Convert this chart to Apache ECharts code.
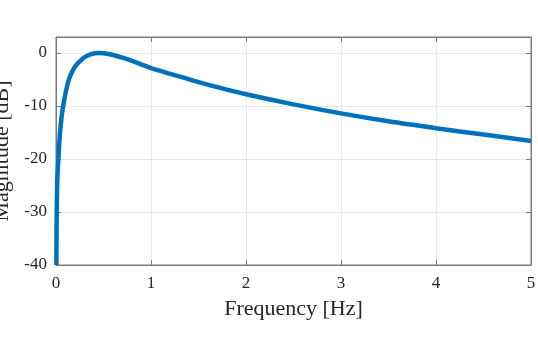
<!DOCTYPE html>
<html>
<head>
<meta charset="utf-8">
<script src="https://cdn.jsdelivr.net/npm/echarts@6/dist/echarts.min.js"></script>
<style>
html, body { margin: 0; padding: 0; background: #fff; }
#main { width: 538px; height: 338px; }
</style>
</head>
<body>
<div id="main"></div>
<script>
// frequency [Hz] and magnitude [dB]
const freq = [0.004, 0.006, 0.009, 0.014, 0.02, 0.025, 0.035, 0.05, 0.065, 0.08, 0.095, 0.11, 0.134,
  0.16, 0.18, 0.21, 0.25, 0.29, 0.33, 0.37, 0.41, 0.45, 0.5, 0.55, 0.6, 0.7, 0.8, 0.9, 1.0, 1.1,
  1.25, 1.5, 1.75, 2.0, 2.5, 3.0, 3.5, 4.0, 4.5, 5.0];
const magDb = [-40, -33, -28, -24, -21.5, -20, -16.8, -13.5, -11.2, -9.5, -8.1, -6.8, -5.1,
  -3.95, -3.2, -2.35, -1.6, -0.95, -0.55, -0.25, -0.07, 0, -0.05, -0.2, -0.4, -0.9, -1.5, -2.2, -2.85, -3.4,
  -4.2, -5.5, -6.7, -7.8, -9.7, -11.4, -12.9, -14.2, -15.4, -16.6];
const xTicks = [0, 1, 2, 3, 4, 5];
const yTicks = [-40, -30, -20, -10, 0];

const font = 'Liberation Serif';
const txt = '#262626';
const axisCol = '#7a7a7a';

let points = freq.map((f, i) => [f, magDb[i]]);

let option = {
  animation: false,
  backgroundColor: '#fff',
  grid: {
    left: 56, right: 7, top: 37, bottom: 73,
    outerBoundsMode: 'none',
    containLabel: false,
    show: true, borderColor: axisCol, borderWidth: 1
  },
  xAxis: [{
    type: 'value',
    min: xTicks[0], max: xTicks[xTicks.length - 1], interval: 1,
    name: 'Frequency [Hz]',
    nameLocation: 'middle',
    nameGap: 33,
    nameTextStyle: { fontFamily: font, fontSize: 22, color: txt },
    axisLine: { onZero: false, lineStyle: { color: axisCol } },
    axisTick: { inside: true, length: 5, lineStyle: { color: axisCol } },
    axisLabel: { fontFamily: font, fontSize: 17, color: txt, margin: 10 },
    splitLine: { lineStyle: { color: '#e8e8e8' } }
  }, {
    type: 'value', position: 'top',
    min: 0, max: 5, interval: 1,
    axisLine: { onZero: false, lineStyle: { color: axisCol } },
    axisTick: { inside: true, length: 5, lineStyle: { color: axisCol } },
    axisLabel: { show: false },
    splitLine: { show: false }
  }],
  yAxis: [{
    type: 'value',
    min: yTicks[0], max: 3, interval: 10,
    name: 'Magnitude [dB]',
    nameLocation: 'middle',
    nameGap: 38,
    nameTextStyle: { fontFamily: font, fontSize: 22, color: txt },
    axisLine: { show: true, onZero: false, lineStyle: { color: axisCol } },
    axisTick: { inside: true, length: 5, lineStyle: { color: axisCol } },
    axisLabel: {
      fontFamily: font, fontSize: 17, color: txt, margin: 9,
      formatter: v => (yTicks.includes(v) ? String(v) : '')
    },
    splitLine: { lineStyle: { color: '#e8e8e8' } }
  }, {
    type: 'value', position: 'right',
    min: -40, max: 3, interval: 10,
    axisLine: { show: true, onZero: false, lineStyle: { color: axisCol } },
    axisTick: { inside: true, length: 5, lineStyle: { color: axisCol } },
    axisLabel: { show: false },
    splitLine: { show: false }
  }],
  series: [{
    type: 'line',
    data: points,
    smooth: 0.3,
    showSymbol: false,
    clip: true,
    lineStyle: { color: '#0072BD', width: 4.5 }
  }]
};

let myChart = echarts.init(document.getElementById('main'));
myChart.setOption(option);
</script>
</body>
</html>
